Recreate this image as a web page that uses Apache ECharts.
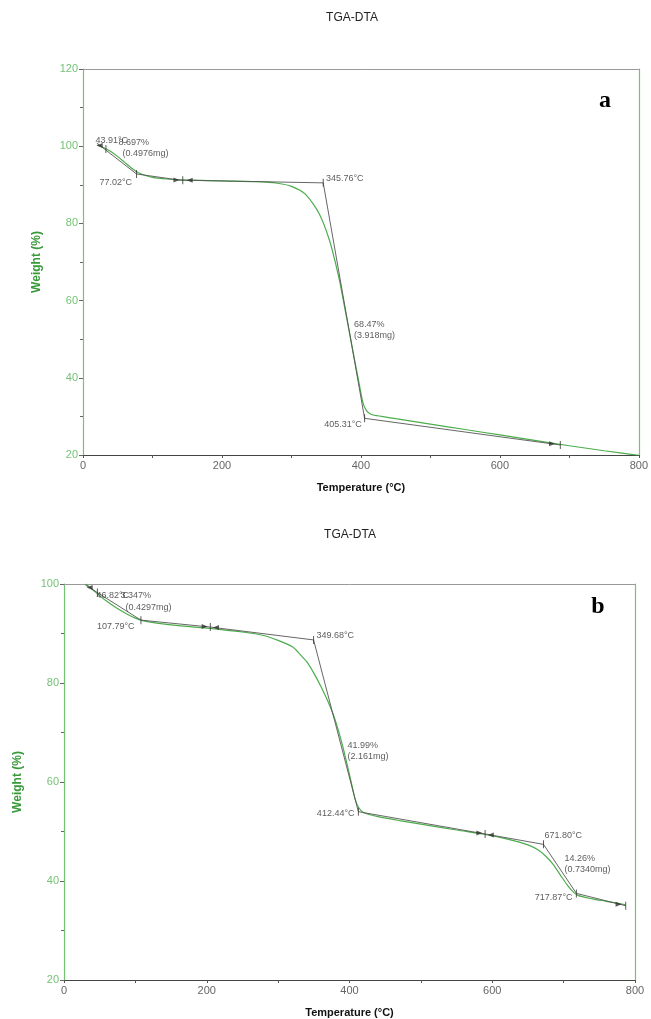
<!DOCTYPE html>
<html><head><meta charset="utf-8">
<script src="https://cdn.jsdelivr.net/npm/echarts@6/dist/echarts.min.js"></script>
<style>html,body{margin:0;padding:0;background:#fff}#c{width:651px;height:1019px}</style>
</head><body><div id="c"></div>
<script>
const chartTitle = 'TGA-DTA';
const xName = 'Temperature (°C)';
const yName = 'Weight (%)';
const panelLetters = ['a', 'b'];

// ---- Panel a ----
const tempA = [20, 30, 40, 50, 60, 70, 80, 90, 100, 120, 140, 160, 200, 250, 280, 300, 320, 340, 355, 365, 370, 380, 390, 398, 403, 408, 415, 430, 450, 500, 550, 600, 650, 700, 750, 800];
const weightA = [100.3, 99.6, 98.6, 97.3, 95.8, 94.3, 93.1, 92.4, 91.9, 91.5, 91.3, 91.2, 91.0, 90.8, 90.4, 89.6, 87.6, 82.5, 75.5, 68.5, 64.5, 55.0, 45.5, 38.0, 33.5, 31.5, 30.5, 30.0, 29.4, 28.0, 26.6, 25.2, 23.8, 22.4, 21.1, 19.9];
const stepTempA = [20, 77.02, 140, 345.76, 405.31, 687];
const stepWeightA = [100.8, 92.8, 91.2, 90.5, 29.5, 22.6];
const tickTempA = [33, 77.02, 143.6, 345.76, 405.31, 687];
const tickWeightA = [99.3, 92.8, 91.2, 90.5, 29.5, 22.6];
const arrowA = [[134.5, 91.25, 'r'], [153.6, 91.15, 'l'], [24, 100.2, 'l'], [675, 22.9, 'r']];
const notesA = [
  [18.7, 101.4, '43.91°C', 'left'],
  [51.7, 100.8, '8.697%', 'left'],
  [57.4, 98.0, '(0.4976mg)', 'left'],
  [24.4, 90.5, '77.02°C', 'left'],
  [350.4, 91.5, '345.76°C', 'left'],
  [390.6, 53.7, '68.47%', 'left'],
  [390.6, 50.9, '(3.918mg)', 'left'],
  [402, 27.8, '405.31°C', 'right']
];

// ---- Panel b ----
const tempB = [30, 40, 50, 60, 70, 80, 90, 100, 110, 130, 160, 200, 250, 280, 300, 320, 330, 340, 350, 360, 370, 380, 390, 400, 408, 413, 420, 440, 470, 500, 550, 590, 620, 650, 665, 675, 685, 695, 705, 712, 720, 740, 760, 787];
const weightB = [100.0, 98.9, 97.6, 96.5, 95.5, 94.6, 93.8, 93.1, 92.6, 92.1, 91.6, 91.1, 90.3, 89.6, 88.6, 87.3, 85.9, 84.3, 82.0, 79.3, 76.2, 72.5, 67.5, 61.5, 56.5, 54.8, 53.8, 53.0, 52.2, 51.5, 50.3, 49.4, 48.5, 47.3, 46.2, 45.0, 43.4, 41.3, 39.2, 38.0, 37.1, 36.4, 35.9, 35.2];
const stepTempB = [30, 107.79, 205, 349.68, 412.44, 590, 671.80, 717.87, 787];
const stepWeightB = [99.8, 92.7, 91.3, 88.7, 54.0, 49.5, 47.4, 37.5, 35.0];
const tickTempB = [46.82, 107.79, 205, 349.68, 412.44, 590, 671.80, 717.87, 787];
const tickWeightB = [98.3, 92.7, 91.3, 88.7, 54.0, 49.5, 47.4, 37.5, 35.0];
const arrowB = [[197, 91.4, 'r'], [213, 91.2, 'l'], [582, 49.7, 'r'], [598, 49.3, 'l'], [36, 99.3, 'l'], [777, 35.3, 'r']];
const notesB = [
  [46.2, 97.6, '46.82°C', 'left'],
  [79.9, 97.6, '3.347%', 'left'],
  [86.9, 95.2, '(0.4297mg)', 'left'],
  [99.5, 91.3, '107.79°C', 'right'],
  [354.4, 89.5, '349.68°C', 'left'],
  [397.9, 67.2, '41.99%', 'left'],
  [397.9, 65.0, '(2.161mg)', 'left'],
  [407.7, 53.5, '412.44°C', 'right'],
  [673.9, 49.0, '671.80°C', 'left'],
  [701.9, 44.4, '14.26%', 'left'],
  [701.9, 42.2, '(0.7340mg)', 'left'],
  [713.1, 36.5, '717.87°C', 'right']
];

const GREEN = '#4cad4c';
const AXGREEN = '#74c274';
const FONT = 'Liberation Sans, Arial, sans-serif';

function zip(a, b) { return a.map((v, i) => [v, b[i]]); }

function xAxes(gi) {
  return [{
    gridIndex: gi, type: 'value', min: 0, max: 800, interval: 200,
    name: xName, nameLocation: 'middle', nameGap: 27,
    nameTextStyle: { color: '#111', fontWeight: 'bold', fontSize: 11, fontFamily: FONT },
    axisLine: { onZero: false, lineStyle: { color: '#444', width: 1.2 } },
    axisTick: { show: true, length: 3, lineStyle: { color: '#555' } },
    minorTick: { show: true, splitNumber: 2, length: 3, lineStyle: { color: '#555' } },
    axisLabel: { color: '#666', fontSize: 11, fontFamily: FONT, margin: 5 },
    splitLine: { show: false }
  }, {
    gridIndex: gi, type: 'value', min: 0, max: 800, position: 'top',
    axisLine: { onZero: false, lineStyle: { color: '#999', width: 1 } },
    axisTick: { show: false }, axisLabel: { show: false }, splitLine: { show: false }
  }];
}
function yAxes(gi, min, max) {
  return [{
    gridIndex: gi, type: 'value', min: min, max: max, interval: 20,
    name: yName, nameLocation: 'middle', nameGap: 40,
    nameTextStyle: { color: '#3a9a3a', fontWeight: 'bold', fontSize: 12, fontFamily: FONT },
    axisLine: { show: true, onZero: false, lineStyle: { color: AXGREEN, width: 1.2 } },
    axisTick: { show: true, length: 4, lineStyle: { color: '#666' } },
    minorTick: { show: true, splitNumber: 2, length: 3, lineStyle: { color: '#666' } },
    axisLabel: { color: AXGREEN, fontSize: 11, fontFamily: FONT, margin: 5 },
    splitLine: { show: false }
  }, {
    gridIndex: gi, type: 'value', min: min, max: max, position: 'right',
    axisLine: { show: true, onZero: false, lineStyle: { color: AXGREEN, width: 1.2 } },
    axisTick: { show: false }, axisLabel: { show: false }, splitLine: { show: false }
  }];
}

function panelSeries(xi, yi, temp, weight, st, sw, tt, tw, arrows, notes) {
  return [{
    type: 'line', xAxisIndex: xi, yAxisIndex: yi, data: zip(temp, weight),
    showSymbol: false, smooth: 0.25, lineStyle: { color: GREEN, width: 1.2 }, z: 3, silent: true
  }, {
    type: 'line', xAxisIndex: xi, yAxisIndex: yi, data: zip(st, sw),
    showSymbol: false, lineStyle: { color: '#555', width: 0.9 }, z: 4, silent: true
  }, {
    type: 'scatter', xAxisIndex: xi, yAxisIndex: yi, data: zip(tt, tw),
    symbol: 'rect', symbolSize: [1, 8], itemStyle: { color: '#333' }, z: 5, silent: true
  }, {
    type: 'scatter', xAxisIndex: xi, yAxisIndex: yi,
    data: arrows.map(a => ({ value: [a[0], a[1]], symbolRotate: a[2] === 'r' ? -90 : 90 })),
    symbol: 'triangle', symbolSize: [5, 6], itemStyle: { color: '#333' }, z: 5, silent: true
  }, {
    type: 'scatter', xAxisIndex: xi, yAxisIndex: yi,
    data: notes.map(n => ({ value: [n[0], n[1]], name: n[2], label: { align: n[3] } })),
    symbolSize: 1, itemStyle: { color: 'rgba(0,0,0,0)' }, z: 6, silent: true,
    label: {
      show: true, position: [0, 0], verticalAlign: 'middle', formatter: p => p.name,
      color: '#333', fontSize: 9, fontFamily: FONT
    }
  }];
}

const chart = echarts.init(document.getElementById('c'), null, { renderer: 'canvas' });
chart.setOption({
  animation: false,
  backgroundColor: '#fff',
  grid: [
    { left: 83, top: 69, width: 557, height: 386 },
    { left: 64, top: 584, width: 571, height: 397 }
  ],
  xAxis: [...xAxes(0), ...xAxes(1)],
  yAxis: [...yAxes(0, 20, 120), ...yAxes(1, 20, 100)],
  graphic: [
    { type: 'text', x: 352, y: 18, style: { text: chartTitle, fill: '#222', font: '12px ' + FONT, textAlign: 'center', textVerticalAlign: 'middle' } },
    { type: 'text', x: 350, y: 535, style: { text: chartTitle, fill: '#222', font: '12px ' + FONT, textAlign: 'center', textVerticalAlign: 'middle' } },
    { type: 'text', x: 605, y: 101, style: { text: panelLetters[0], fill: '#000', font: 'bold 24px Liberation Serif, serif', textAlign: 'center', textVerticalAlign: 'middle' } },
    { type: 'text', x: 598, y: 607, style: { text: panelLetters[1], fill: '#000', font: 'bold 24px Liberation Serif, serif', textAlign: 'center', textVerticalAlign: 'middle' } }
  ],
  series: [
    ...panelSeries(0, 0, tempA, weightA, stepTempA, stepWeightA, tickTempA, tickWeightA, arrowA, notesA),
    ...panelSeries(2, 2, tempB, weightB, stepTempB, stepWeightB, tickTempB, tickWeightB, arrowB, notesB)
  ]
});
</script>
</body></html>
